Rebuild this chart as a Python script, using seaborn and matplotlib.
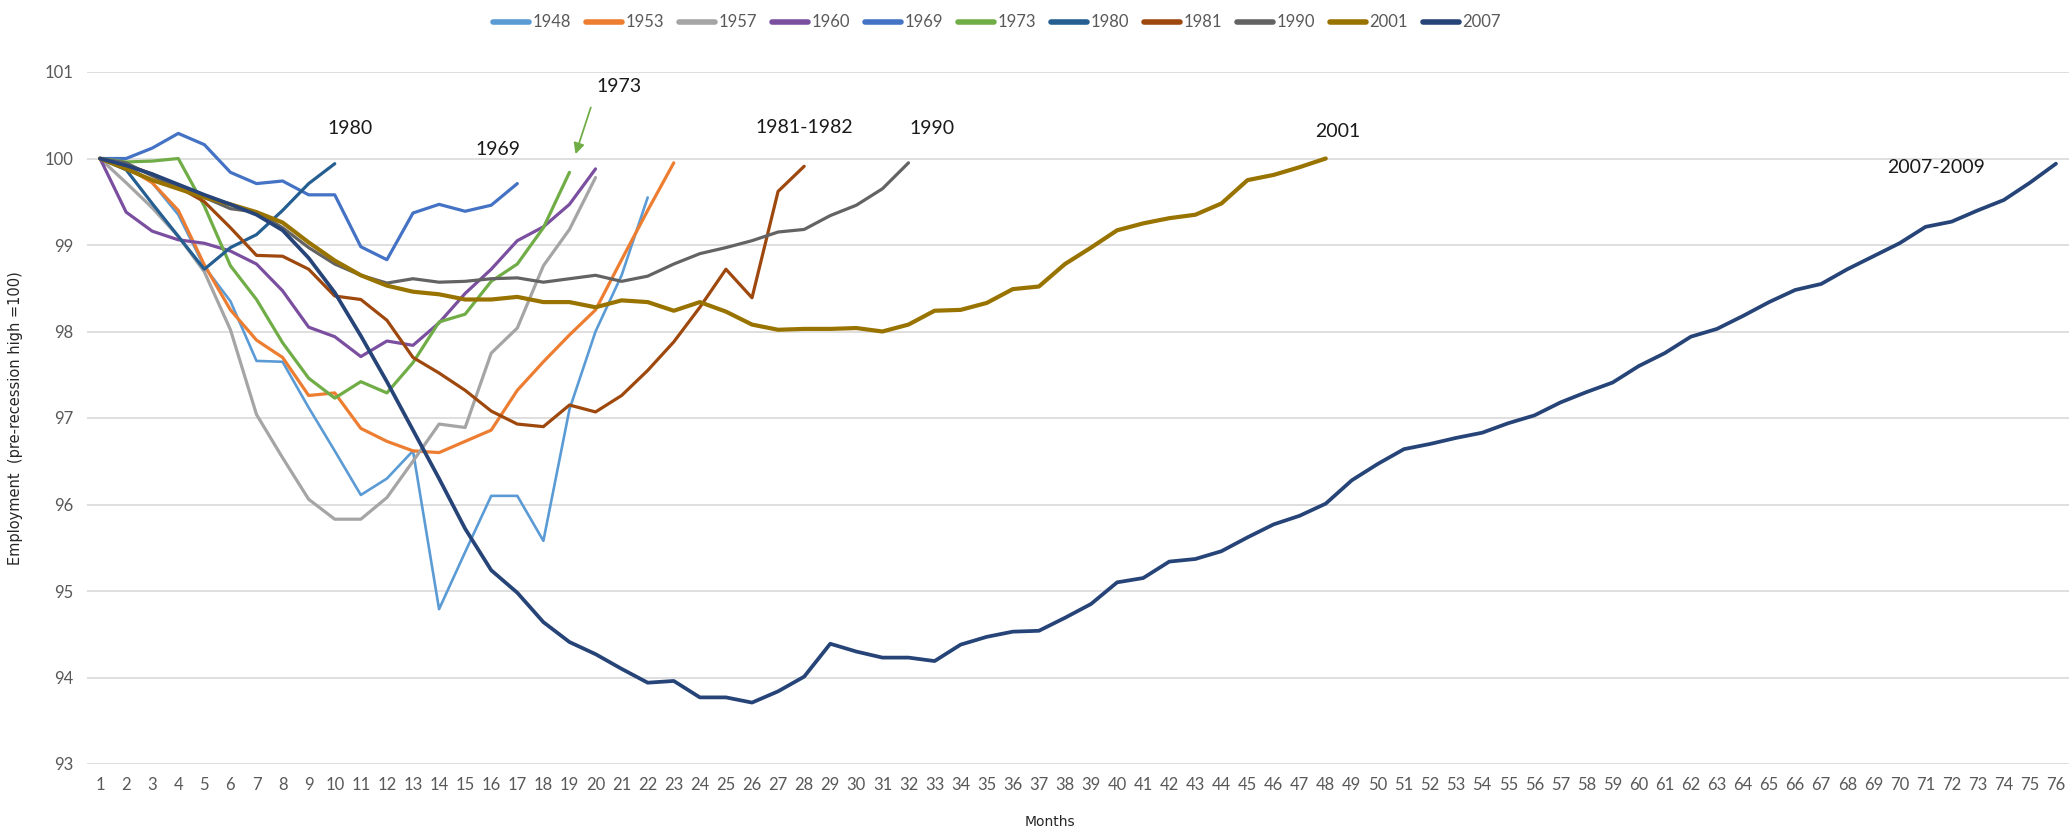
import matplotlib
matplotlib.use("Agg")
import matplotlib.pyplot as plt
from matplotlib.lines import Line2D
from matplotlib import font_manager as fm
import seaborn as sns
import pandas as pd

# ---------------- data ----------------
recessions = ["1948", "1953", "1957", "1960", "1969", "1973", "1980", "1981", "1990", "2001", "2007"]

y1948 = [100, 99.93, 99.72, 99.35, 98.75, 98.35, 97.66, 97.65, 97.12, 96.62, 96.11, 96.30, 96.62, 94.79,
         95.45, 96.10, 96.10, 95.58, 97.10, 98.00, 98.65, 99.55]
y1953 = [100, 99.90, 99.72, 99.40, 98.77, 98.25, 97.90, 97.70, 97.26, 97.29, 96.88, 96.73, 96.62, 96.60,
         96.73, 96.86, 97.32, 97.65, 97.96, 98.25, 98.83, 99.40, 99.95]
y1957 = [100, 99.72, 99.43, 99.10, 98.69, 98.02, 97.04, 96.54, 96.06, 95.83, 95.83, 96.08, 96.50, 96.93,
         96.89, 97.75, 98.04, 98.76, 99.18, 99.78]
y1960 = [100, 99.38, 99.16, 99.06, 99.02, 98.93, 98.78, 98.47, 98.05, 97.94, 97.71, 97.89, 97.84, 98.10,
         98.44, 98.72, 99.05, 99.21, 99.47, 99.88]
y1969 = [100, 100.0, 100.12, 100.29, 100.16, 99.84, 99.71, 99.74, 99.58, 99.58, 98.98, 98.83, 99.37,
         99.47, 99.39, 99.46, 99.71]
y1973 = [100, 99.96, 99.97, 100.0, 99.45, 98.76, 98.37, 97.87, 97.46, 97.23, 97.42, 97.29, 97.64, 98.11,
         98.20, 98.58, 98.78, 99.20, 99.84]
y1980 = [100, 99.87, 99.48, 99.10, 98.72, 98.97, 99.12, 99.40, 99.71, 99.94]
y1981 = [100, 99.93, 99.82, 99.67, 99.50, 99.20, 98.88, 98.87, 98.72, 98.41, 98.37, 98.13, 97.70, 97.52,
         97.32, 97.08, 96.93, 96.90, 97.15, 97.07, 97.26, 97.55, 97.88, 98.28, 98.72, 98.39, 99.62, 99.91]
y1990 = [100, 99.95, 99.80, 99.66, 99.55, 99.42, 99.38, 99.20, 98.97, 98.78, 98.65, 98.56, 98.61, 98.57,
         98.58, 98.61, 98.62, 98.57, 98.61, 98.65, 98.58, 98.64, 98.78, 98.90, 98.97, 99.05, 99.15, 99.18,
         99.34, 99.46, 99.65, 99.95]
y2001 = [100, 99.88, 99.75, 99.65, 99.55, 99.47, 99.38, 99.26, 99.03, 98.82, 98.65, 98.53, 98.46, 98.43,
         98.37, 98.37, 98.40, 98.34, 98.34, 98.28, 98.36, 98.34, 98.24, 98.34, 98.23, 98.08, 98.02, 98.03,
         98.03, 98.04, 98.00, 98.08, 98.24, 98.25, 98.33, 98.49, 98.52, 98.78, 98.97, 99.17, 99.25, 99.31,
         99.35, 99.48, 99.75, 99.81, 99.90, 100.0]
y2007 = [100, 99.92, 99.82, 99.70, 99.58, 99.47, 99.35, 99.17, 98.85, 98.45, 97.95, 97.42, 96.86, 96.30,
         95.72, 95.24, 94.98, 94.64, 94.41, 94.27, 94.10, 93.94, 93.96, 93.77, 93.77, 93.71, 93.84, 94.01,
         94.39, 94.30, 94.23, 94.23, 94.19, 94.38, 94.47, 94.53, 94.54, 94.69, 94.85, 95.10, 95.15, 95.34,
         95.37, 95.46, 95.62, 95.77, 95.87, 96.01, 96.28, 96.47, 96.64, 96.70, 96.77, 96.83, 96.94, 97.03,
         97.18, 97.30, 97.41, 97.60, 97.75, 97.94, 98.03, 98.18, 98.34, 98.48, 98.55, 98.72, 98.87, 99.02,
         99.21, 99.27, 99.40, 99.52, 99.72, 99.94]

series = [y1948, y1953, y1957, y1960, y1969, y1973, y1980, y1981, y1990, y2001, y2007]
month_ticks = list(range(1, 77))
y_ticks = [93, 94, 95, 96, 97, 98, 99, 100, 101]

annotations = ["1980", "1969", "1973", "1981-1982", "1990", "2001", "2007-2009"]

# ---------------- styling ----------------
colors = {"1948": "#5B9BD5", "1953": "#ED7D31", "1957": "#A5A5A5", "1960": "#7B4FA0",
          "1969": "#4472C4", "1973": "#70AD47", "1980": "#255E91", "1981": "#9E480E",
          "1990": "#636363", "2001": "#997300", "2007": "#264478"}
widths = {"1948": 1.9, "2001": 3.0, "2007": 2.7}

rows = []
for name, vals in zip(recessions, series):
    for m, v in enumerate(vals, start=1):
        rows.append({"Month": m, "Employment": v, "Recession": name})
df = pd.DataFrame(rows)

sns.set_theme(style="white")
avail = {f.name for f in fm.fontManager.ttflist}
narrow = "Liberation Sans Narrow" if "Liberation Sans Narrow" in avail else "Lato"
plt.rcParams["font.family"] = [narrow, "DejaVu Sans"]
tick_fs = 13 if narrow != "Lato" else 12
ann_fs = 16 if narrow != "Lato" else 14

fig = plt.figure(figsize=(20.7, 8.33), dpi=100)
ax = fig.add_axes([87 / 2070, 69 / 833, 1982 / 2070, 692 / 833])

for name in recessions:
    sub = df[df["Recession"] == name]
    sns.lineplot(data=sub, x="Month", y="Employment", color=colors[name],
                 linewidth=widths.get(name, 2.3), ax=ax, legend=False)

ax.set_xlim(0.5, 76.5)
ax.set_ylim(93, 101)
ax.set_xticks(month_ticks)
ax.set_xticklabels([str(m) for m in month_ticks])
ax.set_yticks(y_ticks)
ax.set_yticklabels([str(t) for t in y_ticks])
ax.tick_params(axis="both", length=0, labelsize=tick_fs, colors="#595959")
ax.tick_params(axis="x", pad=9)
ax.tick_params(axis="y", pad=10)
ax.grid(axis="y", color="#D9D9D9", linewidth=1.2)
ax.grid(axis="x", visible=False)
for s in ax.spines.values():
    s.set_visible(False)
ax.set_axisbelow(True)

ax.set_ylabel("Employment  (pre-recession high =100)", family="DejaVu Sans", fontsize=10.5,
              color="#262626")
ax.yaxis.set_label_coords(-0.0325, 0.5)
ax.set_xlabel("Months", family="DejaVu Sans", fontsize=10, color="#262626")
ax.xaxis.set_label_coords(0.486, -0.074)

# annotations
ann_pos = [(10.6, 100.35), (16.25, 100.1), (20.9, 100.83), (28.0, 100.36), (32.9, 100.35),
           (48.45, 100.31), (71.4, 99.9)]
for txt, (xx, yy) in zip(annotations, ann_pos):
    ax.text(xx, yy, txt, ha="center", va="center", fontsize=ann_fs, color="#1a1a1a")
ax.annotate("", xy=(19.2, 100.02), xytext=(19.85, 100.62),
            arrowprops=dict(arrowstyle="-|>", color="#70AD47", lw=1.3, mutation_scale=16))

handles = [Line2D([], [], color=colors[n], linewidth=4) for n in recessions]
fig.legend(handles, recessions, loc="center", bbox_to_anchor=(0.4816, 0.973), ncol=11,
           frameon=False, fontsize=tick_fs, handlelength=2.2, handletextpad=0.2,
           columnspacing=0.87, labelcolor="#595959")

fig.savefig("out.png", dpi=100)
